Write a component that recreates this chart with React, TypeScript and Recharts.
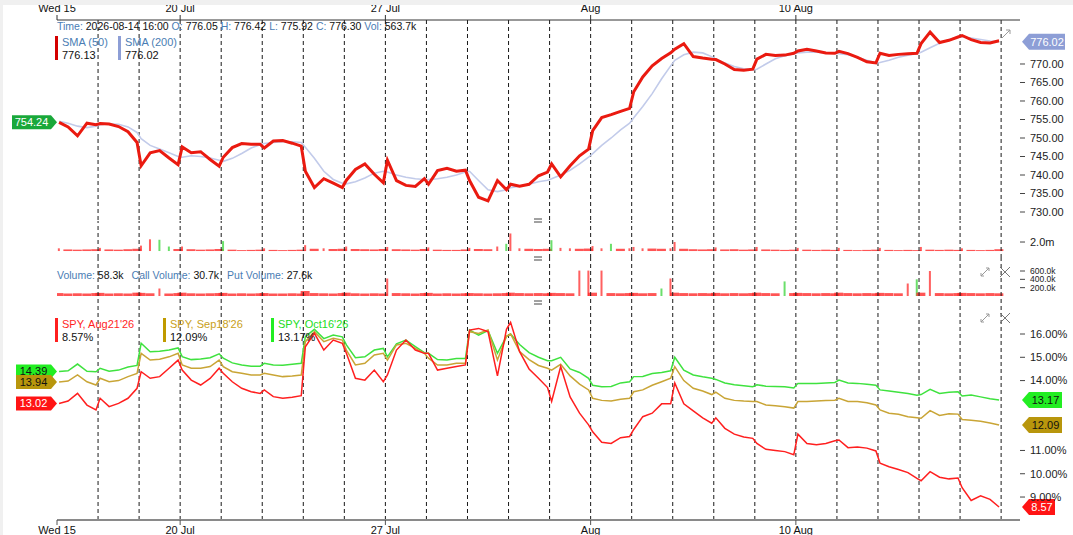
import React from 'react';
import {
  ComposedChart,
  Line,
  Bar,
  XAxis,
  YAxis,
  ReferenceLine,
  ReferenceDot,
} from 'recharts';

// intraday sample positions (fraction of a session) and the axis labels
const SLOTS = [0.05, 0.27, 0.5, 0.73, 0.95];
const DAY_TICKS = [0, 3, 8, 13, 18];
const DAY_LABELS = ['Wed 15', '20 Jul', '27 Jul', 'Aug', '10 Aug'];
const SESSION_BREAKS = [1, 2, 3, 4, 5, 6, 7, 8, 9, 10, 11, 12, 13, 14, 15, 16, 17, 18, 19, 20, 21, 22, 23];
const X_MAX = 23.46;

const PRICE_TICKS = [730, 735, 740, 745, 750, 755, 760, 765, 770];
const VOL_TICKS = [2000];
const OPT_VOL_TICKS = [200, 400, 600];
// 12% and 13% sit under the last-value tags, as in the original
const IV_TICKS = [9, 10, 11, 14, 15, 16];

// SPY close, 5 samples per session (Jul 15 .. Aug 14)
const price = [
  754.24, 753.0, 750.6, 754.0, 753.6,
  753.9, 753.8, 753.1, 751.7, 748.8,
  742.5, 746.0, 746.6, 744.6, 742.8,
  747.6, 746.0, 746.3, 744.2, 742.4,
  744.8, 747.4, 748.5, 748.3, 748.3,
  747.3, 749.2, 749.3, 748.6, 747.8,
  741.0, 736.6, 739.0, 737.8, 736.6,
  738.6, 741.5, 743.0, 740.2, 737.9,
  744.0, 738.5, 737.2, 736.9, 739.0,
  737.5, 741.2, 741.8, 741.0, 741.3,
  738.5, 734.0, 733.0, 738.5, 736.0,
  737.5, 737.0, 737.5, 739.8, 740.8,
  743.0, 739.5, 742.5, 745.2, 747.0,
  752.0, 755.5, 756.3, 757.2, 758.0,
  762.5, 766.5, 769.5, 771.5, 773.0,
  774.0, 775.5, 772.0, 771.6, 771.3,
  771.2, 770.0, 768.5, 768.3, 768.6,
  771.3, 772.6, 772.3, 772.4, 772.9,
  773.5, 774.0, 773.5, 773.0, 772.9,
  773.4, 772.8, 771.8, 770.6, 770.3,
  772.9, 772.3, 772.6, 772.8, 772.9,
  775.5, 778.6, 775.8, 776.4, 777.3,
  777.7, 776.6, 775.8, 775.7, 776.3,
];

const sma200 = [
  754.5, 754.0, 753.2, 752.8, 753.2,
  753.6, 753.8, 753.7, 753.0, 751.5,
  749.8, 748.0, 747.0, 746.0, 745.0,
  744.8, 745.2, 745.0, 744.6, 744.0,
  743.7, 744.5, 745.8, 747.3, 748.2,
  748.5, 748.8, 749.0, 749.0, 748.8,
  747.5, 744.5, 741.0, 738.8, 737.8,
  737.6, 738.2, 739.2, 740.5, 741.0,
  740.8, 740.0, 739.4, 739.0, 738.8,
  738.8, 739.0, 739.4, 740.0, 740.8,
  741.0, 738.5, 736.0, 735.5, 736.0,
  736.6, 737.0, 737.5, 738.2, 738.6,
  739.0, 740.0, 741.3, 743.0, 744.8,
  745.8, 748.0, 750.0, 752.2, 754.0,
  755.5, 758.5, 762.0, 766.0, 769.5,
  771.0, 772.5, 773.2, 773.0, 772.0,
  771.3, 770.3, 769.3, 768.7, 768.4,
  768.6, 770.0, 771.4, 772.2, 772.8,
  773.0, 773.2, 773.2, 773.0, 772.9,
  772.8, 772.5, 771.8, 771.0, 770.3,
  770.4, 771.0, 771.8, 772.4, 772.8,
  773.2, 774.4, 775.6, 776.6, 777.3,
  777.3, 777.0, 776.6, 776.2, 776.02,
];

// share volume, thousands
const priceVol = [
  600, 350, 300, 350, 400,
  700, 350, 300, 400, 500,
  1200, 2600, 2500, 1000, 450,
  1000, 400, 300, 350, 450,
  2200, 300, 200, 250, 300,
  600, 250, 200, 250, 300,
  1300, 500, 600, 450, 500,
  1000, 450, 400, 350, 450,
  900, 400, 350, 300, 450,
  800, 300, 250, 250, 350,
  700, 450, 400, 1000, 1600,
  3900, 600, 500, 450, 500,
  2400, 700, 600, 500, 550,
  1100, 600, 1600, 500, 600,
  900, 600, 550, 500, 600,
  2000, 500, 400, 350, 400,
  800, 350, 400, 300, 350,
  900, 350, 300, 250, 300,
  700, 300, 250, 300, 250,
  700, 250, 200, 250, 300,
  700, 250, 200, 250, 200,
  900, 300, 250, 300, 250,
  600, 250, 200, 250, 400,
];
const priceVolGreen = [12, 13, 20, 54, 60, 67];

// option volume, thousands
const optionVol = [
  70, 60, 65, 60, 70,
  75, 60, 65, 60, 80,
  75, 65, 180, 60, 70,
  80, 65, 60, 65, 70,
  75, 60, 65, 60, 65,
  70, 60, 60, 65, 60,
  120, 70, 65, 60, 70,
  80, 65, 60, 65, 60,
  420, 70, 65, 60, 70,
  75, 60, 65, 60, 65,
  70, 65, 60, 65, 70,
  80, 70, 65, 70, 65,
  75, 70, 65, 610, 610,
  80, 610, 70, 65, 70,
  75, 65, 70, 180, 420,
  80, 70, 65, 70, 65,
  75, 65, 70, 65, 70,
  80, 70, 65, 350, 70,
  75, 70, 65, 70, 65,
  80, 70, 65, 70, 65,
  75, 70, 65, 300, 400,
  80, 600, 70, 65, 70,
  75, 70, 65, 70, 65,
];
const optionVolGreen = [73, 88, 104];

// implied volatility, %
const ivAug = [
  13.02, 13.12, 13.45, 12.95, 12.74,
  13.24, 12.88, 13.02, 13.24, 13.67,
  14.38, 14.10, 14.17, 14.53, 14.88,
  14.45, 14.02, 13.81, 14.09, 14.53,
  14.31, 13.95, 13.67, 13.52, 13.45,
  13.60, 13.31, 13.24, 13.28, 13.35,
  15.45, 16.03, 15.31, 15.74, 15.60,
  15.17, 14.10, 14.02, 14.45, 13.95,
  14.24, 15.31, 15.74, 15.31, 15.17,
  15.17, 14.45, 14.53, 14.60, 14.67,
  16.17, 16.24, 16.10, 14.20, 16.20,
  16.50, 15.24, 14.50, 14.10, 13.70,
  13.10, 14.60, 13.30, 12.60, 12.10,
  11.80, 11.35, 11.30, 11.55, 11.60,
  11.90, 12.45, 12.60, 13.00, 13.00,
  13.90, 13.00, 12.70, 12.40, 12.17,
  12.40, 11.95, 11.70, 11.58, 11.52,
  11.30, 11.05, 11.00, 10.95, 10.82,
  11.70, 11.30, 11.25, 11.30, 11.42,
  11.45, 11.12, 11.15, 11.10, 10.98,
  10.45, 10.30, 10.18, 10.05, 9.80,
  9.70, 10.09, 9.85, 9.78, 9.82,
  9.40, 8.85, 9.05, 8.90, 8.57,
];
const ivSep = [
  13.94, 13.98, 14.24, 13.95, 13.81,
  14.10, 13.95, 14.00, 14.17, 14.31,
  15.17, 14.88, 14.92, 15.02, 15.17,
  14.67, 14.53, 14.53, 14.60, 14.88,
  14.60, 14.38, 14.31, 14.24, 14.24,
  14.31, 14.24, 14.17, 14.20, 14.24,
  15.67, 16.10, 15.67, 15.82, 15.74,
  15.31, 14.67, 14.74, 15.10, 15.17,
  14.88, 15.53, 15.60, 15.38, 15.17,
  14.96, 14.67, 14.67, 14.74, 14.74,
  16.10, 16.02, 16.17, 14.88, 15.90,
  16.00, 15.25, 14.90, 14.65, 14.53,
  14.45, 14.70, 14.20, 13.85, 13.60,
  13.24, 13.15, 13.12, 13.20, 13.24,
  13.52, 13.60, 13.80, 13.95, 14.10,
  14.60, 14.00, 13.67, 13.55, 13.40,
  13.50, 13.24, 13.15, 13.12, 13.10,
  13.10, 12.95, 12.92, 12.88, 12.82,
  13.10, 13.10, 13.12, 13.14, 13.16,
  13.24, 13.10, 13.10, 13.05, 12.95,
  12.74, 12.60, 12.55, 12.45, 12.40,
  12.38, 12.71, 12.50, 12.58, 12.56,
  12.33, 12.30, 12.25, 12.18, 12.09,
];
const ivOct = [
  14.39, 14.42, 14.71, 14.40, 14.38,
  14.53, 14.40, 14.45, 14.58, 14.65,
  15.60, 15.24, 15.26, 15.31, 15.40,
  15.03, 14.90, 14.93, 14.98, 15.15,
  14.96, 14.76, 14.67, 14.62, 14.62,
  14.74, 14.67, 14.66, 14.70, 14.74,
  15.89, 16.20, 15.80, 15.96, 15.88,
  15.53, 14.98, 15.02, 15.31, 15.38,
  15.02, 15.58, 15.74, 15.46, 15.20,
  15.17, 14.90, 14.88, 14.95, 14.95,
  16.17, 15.95, 16.15, 15.17, 15.90,
  16.00, 15.55, 15.20, 15.00, 14.85,
  14.85, 15.00, 14.50, 14.35, 14.10,
  13.80, 13.74, 13.75, 13.90, 13.95,
  14.17, 14.18, 14.30, 14.35, 14.42,
  15.00, 14.45, 14.24, 14.16, 14.10,
  14.05, 13.90, 13.82, 13.78, 13.74,
  13.82, 13.76, 13.75, 13.74, 13.68,
  13.88, 13.88, 13.88, 13.90, 13.92,
  14.02, 13.90, 13.88, 13.84, 13.80,
  13.60, 13.55, 13.50, 13.45, 13.37,
  13.40, 13.62, 13.45, 13.50, 13.52,
  13.34, 13.38, 13.30, 13.22, 13.17,
];

const rows = price.map((p, i) => ({
  t: Math.floor(i / 5) + SLOTS[i % 5],
  price: p,
  sma: sma200[i],
  vol: priceVol[i],
  optVol: optionVol[i],
  aug: ivAug[i],
  sep: ivSep[i],
  oct: ivOct[i],
}));

const last = (a: number[]) => a[a.length - 1];

const FONT = '"Liberation Sans", Arial, sans-serif';
const RED = '#ff1f1f';
const GREEN = '#3fe23f';
const GOLD = '#c9a536';
const SMA_BLUE = '#c2cbea';
const LABEL_BLUE = '#4a7db4';

const W = 1073;
const MARGIN = { top: 0, right: 0, bottom: 0, left: 57 };

const breaks = () =>
  SESSION_BREAKS.map((d) => (
    <ReferenceLine key={`b${d}`} x={d} stroke="#1a1a1a" strokeDasharray="4 3" strokeWidth={1} />
  ));

const rightTag = (text: string, fill: string, color: string, w: number) => (p: any) => {
  const x = p.cx + 2;
  const y = p.cy;
  return (
    <g>
      <polygon
        points={`${x},${y} ${x + 7},${y - 8} ${x + w},${y - 8} ${x + w},${y + 8} ${x + 7},${y + 8}`}
        fill={fill}
      />
      <text x={x + 7 + (w - 7) / 2} y={y + 4} textAnchor="middle" fontSize={11} fill={color}>
        {text}
      </text>
    </g>
  );
};

const leftTag = (text: string, fill: string, color: string, w: number) => (p: any) => {
  const x = p.cx;
  const y = p.cy;
  return (
    <g>
      <polygon
        points={`${x - w},${y - 7} ${x - 6},${y - 7} ${x},${y} ${x - 6},${y + 7} ${x - w},${y + 7}`}
        fill={fill}
      />
      <text x={x - w / 2 - 3} y={y + 4} textAnchor="middle" fontSize={11} fill={color}>
        {text}
      </text>
    </g>
  );
};

// tall bars are drawn as thin spikes, the rest as a low strip
const volShape = (green: number[], maxFlat: number) => (p: any) => {
  const narrow = p.height > maxFlat;
  const w = narrow ? 2 : 9;
  const fill = green.includes(p.index) ? '#39d439' : '#ff2b2b';
  return (
    <rect
      x={p.x + p.width / 2 - w / 2}
      y={p.y}
      width={w}
      height={p.height}
      fill={fill}
      fillOpacity={narrow ? 0.75 : 0.8}
    />
  );
};

const yTick = { fontSize: 11, fill: '#222' };

const Legend = ({ x, y, color, title, value }: any) => (
  <div style={{ position: 'absolute', left: x, top: y, display: 'flex', fontSize: 11, lineHeight: '13px' }}>
    <div style={{ width: 3, height: 24, background: color, marginRight: 4 }} />
    <div>
      <div style={{ color: title.color }}>{title.text}</div>
      <div style={{ color: '#111' }}>{value}</div>
    </div>
  </div>
);

const Icons = ({ top }: { top: number }) => (
  <svg style={{ position: 'absolute', left: 978, top, width: 34, height: 14 }}>
    <path d="M3 11 L11 3 M8 3 L11 3 L11 6 M3 8 L3 11 L6 11" stroke="#999" fill="none" strokeWidth={1} />
    <path d="M22 2 L32 12 M32 2 L22 12" stroke="#777" strokeWidth={1} />
  </svg>
);

const Equals = ({ top }: { top: number }) => (
  <svg style={{ position: 'absolute', left: 533, top: top - 3, width: 10, height: 6 }}>
    <path d="M1 1 L9 1 M1 4 L9 4" stroke="#444" strokeWidth={1} />
  </svg>
);

const App: React.FC = () => {
  const tick = (v: number) => DAY_LABELS[DAY_TICKS.indexOf(v)] ?? '';
  return (
    <div style={{ position: 'relative', width: W, height: 535, background: '#fff', overflow: 'hidden', fontFamily: FONT }}>
      <style>{'body{margin:0}'}</style>

      {/* price panel */}
      <div style={{ position: 'absolute', left: 0, top: 0 }}>
        <ComposedChart width={W} height={221} data={rows} margin={MARGIN}>
          <XAxis
            dataKey="t"
            type="number"
            domain={[0, X_MAX]}
            allowDataOverflow
            orientation="top"
            ticks={DAY_TICKS}
            tickFormatter={tick}
            height={20}
            tickSize={5}
            tickMargin={3}
            axisLine={{ stroke: '#333' }}
            tickLine={{ stroke: '#333' }}
            tick={{ fontSize: 11, fill: '#111' }}
          />
          <YAxis
            orientation="right"
            width={53}
            domain={[727.57, 781.89]}
            allowDataOverflow
            ticks={PRICE_TICKS}
            interval={0}
            tickFormatter={(v: number) => v.toFixed(2)}
            axisLine={false}
            tickLine={{ stroke: '#444' }}
            tickSize={5}
            tickMargin={5}
            tick={yTick}
          />
          {breaks()}
          <Line dataKey="sma" stroke={SMA_BLUE} strokeWidth={1.6} dot={false} isAnimationActive={false} />
          <Line dataKey="price" stroke="#ea1a10" strokeWidth={3} dot={false} isAnimationActive={false} />
          <ReferenceDot x={X_MAX} y={last(sma200)} shape={rightTag(last(sma200).toFixed(2), '#8d9ed6', '#fff', 43)} />
          <ReferenceDot x={0} y={price[0]} shape={leftTag(price[0].toFixed(2), '#19a83a', '#fff', 45)} />
        </ComposedChart>
      </div>

      {/* share volume */}
      <div style={{ position: 'absolute', left: 0, top: 221 }}>
        <ComposedChart width={W} height={37} data={rows} margin={MARGIN}>
          <XAxis dataKey="t" type="number" domain={[0, X_MAX]} allowDataOverflow hide />
          <YAxis
            orientation="right"
            width={53}
            domain={[-1550, 6670]}
            allowDataOverflow
            ticks={VOL_TICKS}
            interval={0}
            tickFormatter={(v: number) => (v / 1000).toFixed(1) + 'm'}
            axisLine={false}
            tickLine={{ stroke: '#444' }}
            tickSize={5}
            tickMargin={5}
            tick={yTick}
          />
          {breaks()}
          <Bar dataKey="vol" barSize={8} shape={volShape(priceVolGreen, 2.5)} isAnimationActive={false} />
        </ComposedChart>
      </div>

      {/* option volume */}
      <div style={{ position: 'absolute', left: 0, top: 258 }}>
        <ComposedChart width={W} height={45} data={rows} margin={MARGIN}>
          <XAxis dataKey="t" type="number" domain={[0, X_MAX]} allowDataOverflow hide />
          <YAxis
            orientation="right"
            width={53}
            domain={[-168, 912]}
            allowDataOverflow
            ticks={OPT_VOL_TICKS}
            interval={0}
            tickFormatter={(v: number) => v.toFixed(1) + 'k'}
            axisLine={false}
            tickLine={{ stroke: '#444' }}
            tickSize={5}
            tickMargin={5}
            tick={{ fontSize: 8.5, fill: '#222' }}
          />
          {breaks()}
          <Bar dataKey="optVol" barSize={9} shape={volShape(optionVolGreen, 6)} isAnimationActive={false} />
        </ComposedChart>
      </div>

      {/* implied volatility */}
      <div style={{ position: 'absolute', left: 0, top: 303 }}>
        <ComposedChart width={W} height={232} data={rows} margin={MARGIN}>
          <XAxis
            dataKey="t"
            type="number"
            domain={[0, X_MAX]}
            allowDataOverflow
            ticks={DAY_TICKS}
            tickFormatter={tick}
            height={15}
            tickSize={5}
            tickMargin={1}
            axisLine={{ stroke: '#8a8a8a', strokeWidth: 2 }}
            tickLine={{ stroke: '#555' }}
            tick={{ fontSize: 11, fill: '#111' }}
          />
          <YAxis
            orientation="right"
            width={53}
            domain={[8.014, 17.331]}
            allowDataOverflow
            ticks={IV_TICKS}
            interval={0}
            tickFormatter={(v: number) => v.toFixed(2) + '%'}
            axisLine={false}
            tickLine={{ stroke: '#444' }}
            tickSize={5}
            tickMargin={5}
            tick={yTick}
          />
          {breaks()}
          <Line dataKey="oct" stroke={GREEN} strokeWidth={1.5} dot={false} isAnimationActive={false} />
          <Line dataKey="sep" stroke={GOLD} strokeWidth={1.5} dot={false} isAnimationActive={false} />
          <Line dataKey="aug" stroke={RED} strokeWidth={1.5} dot={false} isAnimationActive={false} />
          <ReferenceDot x={X_MAX} y={last(ivOct)} shape={rightTag(last(ivOct).toFixed(2), '#22ee22', '#111', 40)} />
          <ReferenceDot x={X_MAX} y={last(ivSep)} shape={rightTag(last(ivSep).toFixed(2), '#b8960c', '#111', 40)} />
          <ReferenceDot x={X_MAX} y={last(ivAug)} shape={rightTag(last(ivAug).toFixed(2), '#ff1414', '#fff', 33)} />
          <ReferenceDot x={0} y={ivOct[0]} shape={leftTag(ivOct[0].toFixed(2), '#22ee22', '#111', 41)} />
          <ReferenceDot x={0} y={ivSep[0]} shape={leftTag(ivSep[0].toFixed(2), '#b8960c', '#111', 41)} />
          <ReferenceDot x={0} y={ivAug[0]} shape={leftTag(ivAug[0].toFixed(2), '#ff1414', '#fff', 41)} />
        </ComposedChart>
      </div>

      {/* legends */}
      <div style={{ position: 'absolute', left: 57, top: 20, fontSize: 10.5, whiteSpace: 'nowrap', color: '#111' }}>
        <span style={{ color: LABEL_BLUE }}>Time: </span>2026-08-14 16:00{' '}
        <span style={{ color: LABEL_BLUE }}>O: </span>776.05{' '}
        <span style={{ color: LABEL_BLUE }}>H: </span>776.42{' '}
        <span style={{ color: LABEL_BLUE }}>L: </span>775.92{' '}
        <span style={{ color: LABEL_BLUE }}>C: </span>776.30{' '}
        <span style={{ color: LABEL_BLUE }}>Vol: </span>563.7k
      </div>
      <Legend x={55} y={36} color="#d40000" title={{ text: 'SMA (50)', color: LABEL_BLUE }} value="776.13" />
      <Legend x={118} y={36} color="#8d9ed6" title={{ text: 'SMA (200)', color: LABEL_BLUE }} value={last(sma200).toFixed(2)} />

      <div style={{ position: 'absolute', left: 57, top: 269, fontSize: 10.5, whiteSpace: 'nowrap', color: '#111' }}>
        <span style={{ color: LABEL_BLUE }}>Volume: </span>58.3k
        <span style={{ color: LABEL_BLUE, marginLeft: 8 }}>Call Volume: </span>30.7k
        <span style={{ color: LABEL_BLUE, marginLeft: 8 }}>Put Volume: </span>27.6k
      </div>

      <Legend x={55} y={318} color={RED} title={{ text: "SPY, Aug21'26", color: RED }} value={last(ivAug).toFixed(2) + '%'} />
      <Legend x={163} y={318} color="#c09a00" title={{ text: "SPY, Sep18'26", color: '#c9a020' }} value={last(ivSep).toFixed(2) + '%'} />
      <Legend x={271} y={318} color="#22ee22" title={{ text: "SPY, Oct16'26", color: '#22dd22' }} value={last(ivOct).toFixed(2) + '%'} />

      <Icons top={265} />
      <Icons top={311} />
      <svg style={{ position: 'absolute', left: 1000, top: 28, width: 12, height: 12 }}>
        <path d="M2 10 L10 2 M6 2 L10 2 L10 6" stroke="#999" fill="none" strokeWidth={1} />
      </svg>
      <Equals top={221} />
      <Equals top={259} />
      <Equals top={303} />

      {/* window frame */}
      <div style={{ position: 'absolute', left: 0, top: 0, width: W, height: 5, background: '#f0f0f0' }} />
      <div style={{ position: 'absolute', left: 0, top: 0, width: 3, height: 535, background: '#f0f0f0' }} />
    </div>
  );
};

export default App;
